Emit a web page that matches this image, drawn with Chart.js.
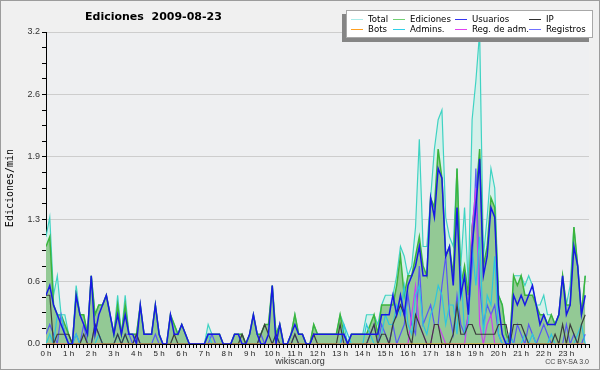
<!DOCTYPE html>
<html>
<head>
<meta charset="utf-8">
<script src="https://cdn.jsdelivr.net/npm/chart.js@4.4.1/dist/chart.umd.min.js"></script>
<style>
  body { margin: 0; background: #f0f0f0; }
  #wrap { position: relative; width: 600px; height: 370px; overflow: hidden; background: #f0f0f0; }
  #frame { position: absolute; left: 0; top: 0; width: 600px; height: 370px; box-sizing: border-box;
           border: 1px solid #9c9c9c; pointer-events: none; }
  #title { position: absolute; left: 85px; top: 10px; font: bold 11px "DejaVu Sans", sans-serif;
           color: #000; white-space: pre; }
  #legend { position: absolute; left: 346px; top: 10px; width: 245px; height: 26px; background: #fff;
            border: 1px solid #a8a8a8; box-shadow: -4px 4px 0 #858585; }
  .item { position: absolute; font: 8.6px "DejaVu Sans", sans-serif; color: #000; white-space: nowrap; line-height: 10px; }
  .sw { display: inline-block; width: 12px; height: 0; border-top: 1px solid; vertical-align: middle; margin-right: 5px; }
  #site { position: absolute; left: 0; width: 600px; top: 356px; text-align: center;
          font: 9px "Liberation Sans", sans-serif; color: #333; }
  #lic { position: absolute; right: 11px; top: 358px; font: 7px "Liberation Sans", sans-serif; color: #444; }
</style>
</head>
<body>
<div id="wrap">
  <canvas id="ediciones" width="600" height="370"></canvas>
  <div id="title">Ediciones  2009-08-23</div>
  <div id="legend"></div>
  <div id="site">wikiscan.org</div>
  <div id="lic">CC BY-SA 3.0</div>
  <div id="frame"></div>
</div>
<script>
// valores cada 10 minutos (ediciones/min), 6 por hora
const horas = ['0 h','1 h','2 h','3 h','4 h','5 h','6 h','7 h','8 h','9 h','10 h','11 h',
               '12 h','13 h','14 h','15 h','16 h','17 h','18 h','19 h','20 h','21 h','22 h','23 h'];

const total = [
  1.1,1.3,0.5,0.7,0.3,0.3,  0.1,0,0.6,0.3,0.3,0.1,  0.7,0.3,0.4,0.4,0.5,0.3,  0.1,0.5,0.1,0.5,0.1,0.1,
  0.1,0.4,0.1,0.1,0.1,0.4,  0.1,0,0,0.3,0.2,0.1,    0.2,0.1,0,0,0,0,        0,0.2,0.1,0.1,0.1,0,
  0,0,0.1,0.1,0.1,0,        0.1,0.3,0.1,0.1,0.2,0.2,  0.6,0.1,0.2,0,0,0.1,    0.3,0.1,0.1,0,0,0.2,
  0.1,0.1,0.1,0.1,0.1,0.1,  0.3,0.2,0,0.1,0.1,0.1,  0.1,0.3,0.3,0.3,0.2,0.4,  0.5,0.5,0.5,0.7,1.0,0.9,
  0.7,0.8,1.2,2.1,1.0,1.0,  1.5,2.0,2.3,2.4,1.3,1.1,  1.0,1.8,0.8,1.4,0.6,2.3,  2.7,3.2,0.9,1.3,1.8,1.6,
  0.5,0.4,0.1,0,0.7,0.7,    0.7,0.6,0.7,0.6,0.4,0.4,  0.5,0.3,0.3,0.2,0.3,0.7,  0.4,0.6,1.2,0.8,0.3,0.7
];
const ediciones = [
  1.0,1.1,0.4,0.3,0.3,0.2,  0.1,0,0.5,0.3,0.3,0.1,  0.7,0.3,0.4,0.4,0.5,0.3,  0.1,0.4,0.1,0.4,0.1,0.1,
  0.1,0.4,0.1,0.1,0.1,0.4,  0.1,0,0,0.3,0.2,0.1,    0.2,0.1,0,0,0,0,        0,0.1,0.1,0.1,0.1,0,
  0,0,0.1,0.1,0.1,0,        0.1,0.3,0.1,0.1,0.2,0.2,  0.6,0.1,0.2,0,0,0.1,    0.3,0.1,0.1,0,0,0.2,
  0.1,0.1,0.1,0.1,0.1,0.1,  0.3,0.1,0,0.1,0.1,0.1,  0.1,0.1,0.2,0.3,0.1,0.4,  0.4,0.4,0.4,0.6,0.9,0.5,
  0.7,0.7,0.9,1.1,0.8,0.7,  1.5,1.4,2.0,1.7,0.9,1.0,  0.7,1.8,0.6,0.8,0.5,1.2,  1.5,2.0,0.8,1.0,1.5,1.4,
  0.5,0.4,0.1,0,0.7,0.6,    0.7,0.5,0.5,0.5,0.4,0.3,  0.3,0.2,0.3,0.2,0.3,0.7,  0.4,0.4,1.2,0.8,0.3,0.7
];
const usuarios = [
  0.5,0.6,0.4,0.3,0.2,0.1,  0,0,0.5,0.3,0.2,0.1,    0.7,0.1,0.3,0.4,0.5,0.3,  0.1,0.3,0.1,0.3,0.1,0.1,
  0,0.4,0.1,0.1,0.1,0.4,    0.1,0,0,0.3,0.1,0.1,    0.2,0.1,0,0,0,0,        0,0.1,0.1,0.1,0.1,0,
  0,0,0.1,0.1,0,0,          0.1,0.3,0.1,0,0,0.1,    0.6,0,0.2,0,0,0.1,      0.2,0.1,0.1,0,0,0.1,
  0.1,0.1,0.1,0.1,0.1,0.1,  0.1,0.1,0,0.1,0.1,0.1,  0.1,0.1,0.1,0.1,0.1,0.3,  0.3,0.3,0.5,0.3,0.5,0.3,
  0.6,0.7,0.8,1.0,0.7,0.7,  1.5,1.3,1.8,1.7,0.9,1.0,  0.6,1.4,0.5,0.7,0.3,1.0,  1.4,1.9,0.7,0.9,1.4,1.3,
  0.4,0.1,0,0,0.5,0.4,      0.5,0.4,0.5,0.6,0.4,0.2,  0.3,0.2,0.2,0.2,0.3,0.7,  0.3,0.4,1.0,0.8,0.3,0.5
];
const ip = [
  0.5,0.5,0,0.1,0.1,0.1,    0.1,0,0,0,0.1,0,        0,0.2,0.1,0,0,0,        0,0.1,0,0.1,0,0,
  0.1,0,0,0,0,0,            0,0,0,0,0.1,0,          0,0,0,0,0,0,            0,0,0,0,0,0,
  0,0,0,0,0.1,0,            0,0,0,0.1,0.2,0.1,      0,0.1,0,0,0,0,          0.1,0,0,0,0,0.1,
  0,0,0,0,0,0,              0.2,0,0,0,0,0,          0,0,0.1,0.2,0,0.1,      0.1,0,0.2,0.3,0.4,0.3,
  0.1,0,0.3,0.2,0.1,0,      0,0.2,0.2,0,0,0,        0.1,0.4,0.1,0.1,0.2,0.2,  0.1,0.1,0.1,0.1,0.1,0.1,
  0.2,0.2,0.2,0,0.2,0.2,    0.2,0.1,0,0,0,0,        0,0,0,0.1,0,0.2,        0,0.2,0.1,0,0.2,0.3
];
const bots = new Array(144).fill(0);
const admins = [
  0,0.1,0,0.3,0.3,0.1,      0,0,0.1,0,0,0,          0,0,0.1,0,0,0,          0,0.1,0,0.1,0,0,
  0,0,0,0,0,0,              0,0,0,0,0,0,            0,0,0,0,0,0,            0,0.1,0,0,0,0,
  0,0,0,0,0,0,              0,0,0,0,0,0,            0,0.1,0,0,0,0,          0,0,0,0,0,0,
  0,0,0,0,0,0,              0,0.2,0.1,0,0,0,        0,0.2,0.1,0,0,0.1,      0.3,0.2,0.2,0.4,0.3,0.6,
  0.2,0.1,0.5,0.6,0.2,0.1,  0.3,0.4,0.6,0.5,0.2,0.4,  0.4,0.1,0.8,0.1,0.2,1.0,  0.6,1.1,0.1,0.5,0.4,0.9,
  0.1,0,0,0.1,0,0,          0,0.1,0,0.1,0,0,        0,0,0.1,0,0,0,          0,0,0,0.1,0.2,0
];
const regAdm = [
  0,0,0,0,0,0,  0,0,0,0,0,0,  0,0,0,0,0,0,  0,0,0,0,0,0,
  0,0,0,0,0,0,  0,0,0,0,0,0,  0,0,0,0,0,0,  0,0,0,0,0,0,
  0,0,0,0,0,0,  0,0,0,0,0,0,  0,0,0,0,0,0,  0,0,0,0,0,0,
  0,0,0,0,0,0,  0,0,0,0,0,0,  0,0,0,0,0,0,  0,0,0,0,0,0,
  0,0.3,0.6,0.2,0.1,0,  0,0.2,0.2,0.1,0,0,  0,0,0,0,0.3,1.2,  1.6,0.2,0,0.2,0.3,0,
  0,0,0,0,0,0,  0,0,0,0,0,0,  0,0,0,0,0,0,  0,0,0,0,0,0
];
const registros = [
  0.1,0.2,0.1,0,0.3,0.1,    0,0,0.1,0,0.2,0,        0,0.2,0.1,0,0,0,        0,0.1,0,0.1,0.1,0,
  0.1,0,0,0,0,0.1,          0,0,0,0,0,0,            0,0,0,0,0,0,            0,0,0.1,0,0,0,
  0,0,0,0,0,0,              0,0,0,0.1,0,0,          0,0,0,0,0,0,            0.1,0,0,0,0,0,
  0,0,0,0,0,0,              0,0.1,0,0,0,0,          0,0,0.1,0.2,0,0.2,      0.1,0,0.2,0,0.1,0.2,
  0.5,0.2,0.1,0.8,0.2,0.3,  0.4,0.2,0.2,0.6,0.9,0.3,  0.1,0.5,0.2,0.1,0.3,0.8,  1.8,0.6,0.2,0.4,0.3,0.4,
  0.1,0,0,0.1,0,0.2,        0.1,0,0.2,0.1,0,0.1,    0.2,0.1,0,0,0,0,        0.2,0,0.1,0,0,0.1
];

const yMax = 3.2;

function puntos(serie) {
  return serie.map((v, i) => ({ x: i / 6, y: v }));
}

function serie(label, data, color, legendColor, order, extra) {
  return Object.assign({
    label: label,
    data: puntos(data),
    borderColor: color,
    legendColor: legendColor,
    borderWidth: 1.2,
    pointRadius: 0,
    fill: false,
    order: order
  }, extra || {});
}

const plotBg = {
  id: 'plotBg',
  beforeDraw(chart) {
    const { ctx, chartArea: a } = chart;
    ctx.save();
    ctx.fillStyle = '#eeeff1';
    ctx.fillRect(a.left, a.top, a.right - a.left, a.bottom - a.top);
    ctx.restore();
  }
};

const ctx = document.getElementById('ediciones').getContext('2d');
const chart = new Chart(ctx, {
  type: 'line',
  data: {
    datasets: [
      serie('Total', total, '#3fd3c3', '#a9ecea', 8, { fill: 'origin', backgroundColor: '#d5f0ea' }),
      serie('Ediciones', ediciones, '#3cb43c', '#72d072', 7, { fill: 'origin', backgroundColor: '#93c995', borderWidth: 1.5 }),
      serie('Usuarios', usuarios, '#1818e6', '#3535f0', 1, { borderWidth: 1.5 }),
      serie('IP', ip, '#3c3c3c', '#303030', 3),
      serie('Bots', bots, '#ffa020', '#ffa020', 2),
      serie('Admins.', admins, '#2ec6de', '#30d0e8', 4),
      serie('Reg. de adm.', regAdm, '#c844ee', '#e040f0', 5),
      serie('Registros', registros, '#5858f4', '#7070ff', 6)
    ]
  },
  options: {
    responsive: false,
    animation: false,
    events: [],
    layout: { padding: { top: 32, right: 11, left: 0, bottom: 0 } },
    plugins: {
      legend: { display: false },
      tooltip: { enabled: false },
      filler: { drawTime: 'beforeDatasetsDraw' }
    },
    elements: { line: { tension: 0 } },
    scales: {
      x: {
        type: 'linear',
        min: 0,
        max: 24,
        afterFit(s) { s.height = 26; },
        border: { color: '#000', width: 1 },
        grid: { drawOnChartArea: false, tickLength: 4, tickColor: '#000' },
        ticks: {
          stepSize: 1 / 6,
          autoSkip: false,
          maxRotation: 0,
          padding: 1,
          color: '#222',
          font: { family: 'Liberation Sans', size: 8 },
          callback(v) {
            const h = Math.round(v);
            return Math.abs(v - h) < 1e-6 && h < 24 ? horas[h] : '';
          }
        }
      },
      y: {
        min: 0,
        max: yMax,
        afterFit(s) { s.width = 46; },
        border: { color: '#000', width: 1 },
        grid: {
          color: c => (c.index % 4 === 0 && c.index > 0) ? '#cdcdcd' : 'rgba(0,0,0,0)',
          tickColor: '#000',
          tickLength: 4
        },
        ticks: {
          stepSize: 0.16,
          autoSkip: false,
          padding: 2,
          color: '#333',
          font: { family: 'Liberation Sans', size: 9 },
          callback: (v, i) => i % 4 === 0 ? v.toFixed(1) : ''
        },
        title: {
          display: true,
          text: 'Ediciones/min',
          color: '#000',
          font: { family: 'DejaVu Sans Mono', size: 10 },
          padding: { top: 4, bottom: 0 }
        }
      }
    }
  },
  plugins: [plotBg]
});

// leyenda en rejilla de 4 columnas
const colX = [4, 46, 108, 182];
const legend = document.getElementById('legend');
chart.data.datasets.forEach((d, i) => {
  const el = document.createElement('div');
  el.className = 'item';
  el.style.left = colX[i % 4] + 'px';
  el.style.top = (3 + Math.floor(i / 4) * 10) + 'px';
  el.innerHTML = '<span class="sw" style="border-color:' + d.legendColor + '"></span>' + d.label;
  legend.appendChild(el);
});
</script>
</body>
</html>
